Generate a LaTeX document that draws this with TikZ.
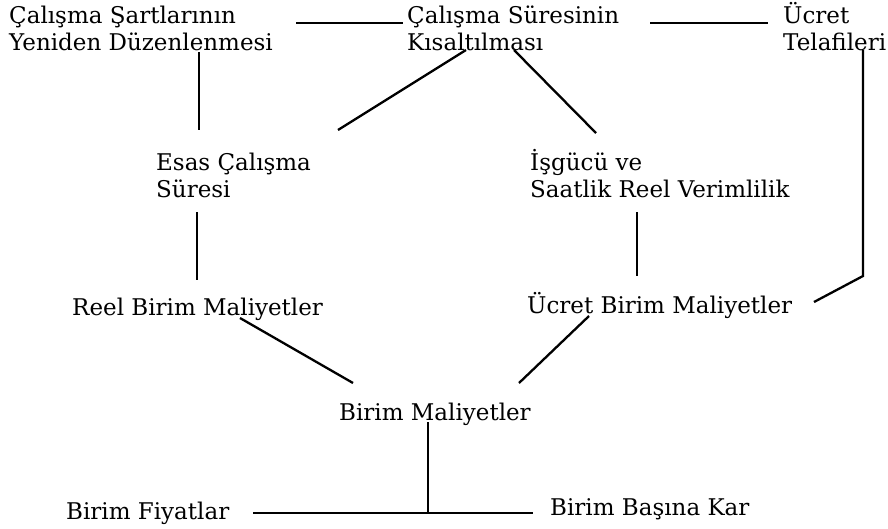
\documentclass[tikz,border=0pt]{standalone}
\usepackage{fontspec}
\setmainfont{DejaVu Serif}
\usepackage{tikz}
\usetikzlibrary{calc,positioning}
\tikzset{
%Define style for the labels
lbl/.style={anchor=base west, inner sep=0pt, align=left, font=\lblfont},
%Define style for the connecting lines
link/.style={line width=2.3pt},
}
\newcommand\lblfont{\fontsize{23}{27}\selectfont}

\begin{document}
\begin{tikzpicture}[x=1pt,y=-1pt]
    \useasboundingbox (0,0) rectangle (888,528);
    %Top row (base anchor sits on the last line)
    \node[lbl] (sart) at (9,50) {Çalışma Şartlarının\\Yeniden Düzenlenmesi};
    \node[lbl] (kisa) at (407,50) {Çalışma Süresinin\\Kısaltılması};
    \node[lbl] (ucret) at (783,50) {Ücret\\Telafileri};
    %Second row
    \node[lbl] (esas) at (156,197) {Esas Çalışma\\Süresi};
    \node[lbl] (isgucu) at (530,197) {İşgücü ve\\Saatlik Reel Verimlilik};
    %Third row
    \node[lbl] (reel) at (72,315) {Reel Birim Maliyetler};
    \node[lbl] (ucretb) at (527,313) {Ücret Birim Maliyetler};
    %Bottom
    \node[lbl] (birimm) at (339,420) {Birim Maliyetler};
    \node[lbl] (fiyat) at (66,519) {Birim Fiyatlar};
    \node[lbl] (kar) at (550,515) {Birim Başına Kar};
    %Bend and junction points
    \coordinate (ucbend) at ($(ucret.base west)+(80,226)$);
    \coordinate (bmjoin) at ($(birimm.base west)+(89,93)$);

    %Top row connections
    \draw[link] ([shift={(287,-27)}]sart.base west) -- ([shift={(-4,-27)}]kisa.base west);
    \draw[link] ([shift={(243,-27)}]kisa.base west) -- ([shift={(-15,-27)}]ucret.base west);
    %Down to the second row
    \draw[link] ([shift={(190,2)}]sart.base west) -- ([shift={(43,-67)}]esas.base west);
    \draw[link] ([shift={(59,0)}]kisa.base west) -- ([shift={(182,-67)}]esas.base west);
    \draw[link] ([shift={(107,0)}]kisa.base west) -- ([shift={(66,-64)}]isgucu.base west);
    \draw[link] ([shift={(80,0)}]ucret.base west) -- (ucbend)
        -- ([shift={(287,-11)}]ucretb.base west);
    %Down to the third row
    \draw[link] ([shift={(41,15)}]esas.base west) -- ([shift={(125,-35)}]reel.base west);
    \draw[link] ([shift={(107,15)}]isgucu.base west) -- ([shift={(110,-37)}]ucretb.base west);
    %Unit costs
    \draw[link] ([shift={(168,3)}]reel.base west) -- ([shift={(14,-37)}]birimm.base west);
    \draw[link] ([shift={(62,3)}]ucretb.base west) -- ([shift={(180,-37)}]birimm.base west);
    \draw[link] ([shift={(89,2)}]birimm.base west) -- (bmjoin);
    \draw[link] ([shift={(187,-6)}]fiyat.base west) -- ([shift={(-17,-2)}]kar.base west);
\end{tikzpicture}
\end{document}
